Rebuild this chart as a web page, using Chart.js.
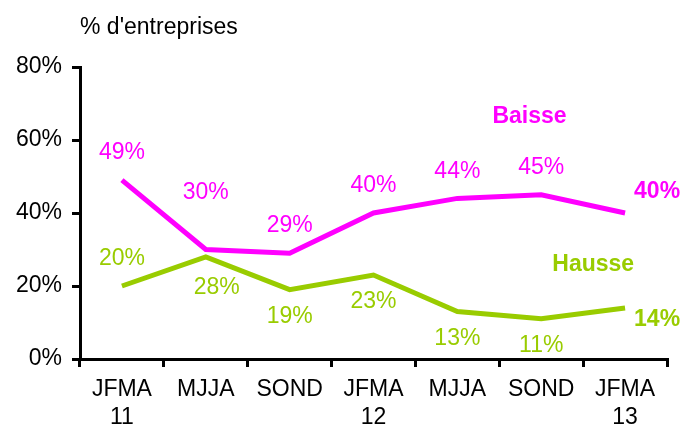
<!DOCTYPE html>
<html>
<head>
<meta charset="utf-8">
<script src="https://cdn.jsdelivr.net/npm/chart.js"></script>
<style>
  body { margin: 0; background: #fff; }
  #wrap { width: 690px; height: 424px; }
</style>
</head>
<body>
<div id="wrap"><canvas id="graf" width="690" height="424"></canvas></div>
<script>
// Données
const periodes = [['JFMA', '11'], 'MJJA', 'SOND', ['JFMA', '12'], 'MJJA', 'SOND', ['JFMA', '13']];
const baisse = [49, 30, 29, 40, 44, 45, 40];
const hausse = [20, 28, 19, 23, 13, 11, 14];
const ticksY = [0, 20, 40, 60, 80];

const ROSE = '#ff00ff';
const VERT = '#99cc00';
const POLICE = "'Liberation Sans', Arial, sans-serif";

// Placement des étiquettes de valeurs (décalage en px depuis le point)
const placements = {
  haut: [0, -27], tresHaut: [0, -57], bas: [0, 27], basDroite: [11, 31],
  droiteHaut: [32, -21], droiteBas: [32, 12]
};
const placeBaisse = ['haut', 'tresHaut', 'haut', 'haut', 'haut', 'haut', 'droiteHaut'];
const placeHausse = ['haut', 'basDroite', 'bas', 'bas', 'bas', 'bas', 'droiteBas'];

// Plugin pour écrire les étiquettes, les noms de séries et le titre de l'axe
const etiquettes = {
  id: 'etiquettes',
  afterDatasetsDraw(chart) {
    const c = chart.ctx;
    const places = [placeBaisse, placeHausse];
    c.save();
    c.textAlign = 'center';
    c.textBaseline = 'middle';
    chart.data.datasets.forEach((ds, i) => {
      const meta = chart.getDatasetMeta(i);
      meta.data.forEach((pt, j) => {
        const p = placements[places[i][j]];
        const dernier = j === ds.data.length - 1;
        c.font = (dernier ? 'bold ' : '') + '23px ' + POLICE;
        c.fillStyle = ds.borderColor;
        c.fillText(ds.data[j] + '%', pt.x + p[0], pt.y + p[1]);
      });
    });
    // noms des séries
    const x = chart.scales.x, y = chart.scales.y;
    c.font = 'bold 23px ' + POLICE;
    c.fillStyle = ROSE;
    c.fillText('Baisse', x.getPixelForValue(4.86), y.getPixelForValue(66.3));
    c.fillStyle = VERT;
    c.fillText('Hausse', x.getPixelForValue(5.62), y.getPixelForValue(25.8));
    // titre de l'axe
    c.font = '23px ' + POLICE;
    c.fillStyle = '#000';
    c.textAlign = 'left';
    c.fillText("% d'entreprises", 80, 28);
    c.restore();
  }
};

new Chart(document.getElementById('graf'), {
  type: 'line',
  data: {
    labels: periodes,
    datasets: [
      { label: 'Baisse', data: baisse, borderColor: ROSE, borderWidth: 5, pointRadius: 0, tension: 0 },
      { label: 'Hausse', data: hausse, borderColor: VERT, borderWidth: 5, pointRadius: 0, tension: 0 }
    ]
  },
  options: {
    responsive: false,
    animation: false,
    layout: { padding: { top: 67, right: 23, left: 0, bottom: 0 } },
    plugins: { legend: { display: false }, tooltip: { enabled: false } },
    scales: {
      x: {
        offset: true,
        border: { color: '#000', width: 3 },
        grid: { display: true, offset: true, drawOnChartArea: false, drawTicks: true, tickLength: 8, color: '#000', lineWidth: 3 },
        ticks: { color: '#000', font: { family: POLICE, size: 23 }, maxRotation: 0, autoSkip: false, padding: 9 },
        afterFit(s) { s.height = 65; }
      },
      y: {
        min: 0, max: 80,
        border: { color: '#000', width: 3 },
        grid: { display: true, drawOnChartArea: false, drawTicks: true, tickLength: 8, color: '#000', lineWidth: 3 },
        afterBuildTicks(s) { s.ticks = ticksY.map(v => ({ value: v })); },
        ticks: { color: '#000', font: { family: POLICE, size: 23 }, padding: 10, callback: v => v + '%' },
        afterFit(s) { s.width = 80; }
      }
    }
  },
  plugins: [etiquettes]
});
</script>
</body>
</html>
